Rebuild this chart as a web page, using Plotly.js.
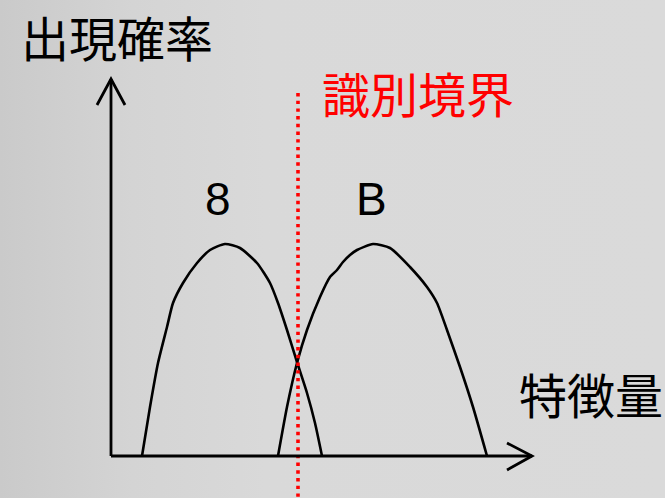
<!DOCTYPE html>
<html>
<head>
<meta charset="utf-8">
<script src="https://cdn.plot.ly/plotly-3.0.1.min.js"></script>
<style>
html,body{margin:0;padding:0;}
body{width:665px;height:498px;background:linear-gradient(to right,#cacaca 0%,#d4d4d4 20%,#d9d9d9 40%,#dadada 100%);}
#chart{width:665px;height:498px;}
</style>
</head>
<body>
<div id="chart"></div>
<script>
// Feature value (x) and occurrence probability (y) for each class
const class8X = [31, 39, 47, 56, 62, 72, 86, 99, 114, 129, 146, 159, 167, 176, 186, 196, 204, 211];
const class8Y = [0, 49, 93, 129, 153, 173, 193, 206, 212, 208, 193, 173, 153, 126, 94, 63, 33, 0];
const classBX = [167, 176, 186, 196, 209, 219, 226, 232, 239, 246, 262, 279, 299, 316, 326, 336, 349, 362, 376];
const classBY = [0, 49, 93, 126, 159, 179, 186, 194, 201, 206, 212, 208, 189, 169, 153, 126, 89, 49, 0];
const boundaryX = [187, 187];
const boundaryY = [363, -42];
const classLabels = ['8', 'B'];
const yTitle = '出現確率';
const xTitle = '特徴量';
const boundaryLabel = '識別境界';

const curveLine = {color: '#000000', width: 2.6, shape: 'spline', smoothing: 0.6};
const traces = [
  {x: class8X, y: class8Y, mode: 'lines', line: curveLine, hoverinfo: 'skip', cliponaxis: false},
  {x: classBX, y: classBY, mode: 'lines', line: curveLine, hoverinfo: 'skip', cliponaxis: false},
  {x: boundaryX, y: boundaryY, mode: 'lines', line: {color: '#ff0000', width: 3.6, dash: '3.4px,4.3px'}, hoverinfo: 'skip', cliponaxis: false}
];

const cjk = '"Noto Sans CJK JP", "Noto Sans", sans-serif';
const latin = '"Liberation Sans", Arial, sans-serif';
const axisStyle = {color: '#000000', width: 2.8};

const layout = {
  width: 665, height: 498,
  margin: {l: 0, r: 0, t: 0, b: 0},
  paper_bgcolor: 'rgba(0,0,0,0)',
  plot_bgcolor: 'rgba(0,0,0,0)',
  showlegend: false,
  xaxis: {range: [-111, 554], visible: false, fixedrange: true},
  yaxis: {range: [-42, 456], visible: false, fixedrange: true},
  shapes: [
    {type: 'line', xref: 'x', yref: 'y', x0: 0, y0: 0, x1: 421, y1: 0, line: axisStyle},
    {type: 'line', xref: 'x', yref: 'y', x0: 0, y0: 0, x1: 0, y1: 377, line: axisStyle},
    {type: 'path', xref: 'x', yref: 'y', path: 'M 396,13 L 421,0 L 396,-14', line: axisStyle},
    {type: 'path', xref: 'x', yref: 'y', path: 'M -14,351 L 0,377 L 14,351', line: axisStyle}
  ],
  annotations: [
    {x: 6, y: 456, xref: 'x', yref: 'y', text: yTitle, showarrow: false, xanchor: 'center', yanchor: 'top', borderpad: 0, font: {family: cjk, size: 48, color: '#000000'}},
    {x: 480, y: 63, xref: 'x', yref: 'y', text: xTitle, showarrow: false, xanchor: 'center', yanchor: 'middle', font: {family: cjk, size: 48, color: '#000000'}},
    {x: 307, y: 364, xref: 'x', yref: 'y', text: boundaryLabel, showarrow: false, xanchor: 'center', yanchor: 'middle', font: {family: cjk, size: 48, color: '#ff0000'}},
    {x: 106.5, y: 257, xref: 'x', yref: 'y', text: classLabels[0], showarrow: false, xanchor: 'center', yanchor: 'middle', font: {family: latin, size: 46, color: '#000000'}},
    {x: 260.7, y: 257, xref: 'x', yref: 'y', text: classLabels[1], showarrow: false, xanchor: 'center', yanchor: 'middle', font: {family: latin, size: 46, color: '#000000'}}
  ]
};

Plotly.newPlot('chart', traces, layout, {displayModeBar: false, staticPlot: true});
</script>
</body>
</html>
